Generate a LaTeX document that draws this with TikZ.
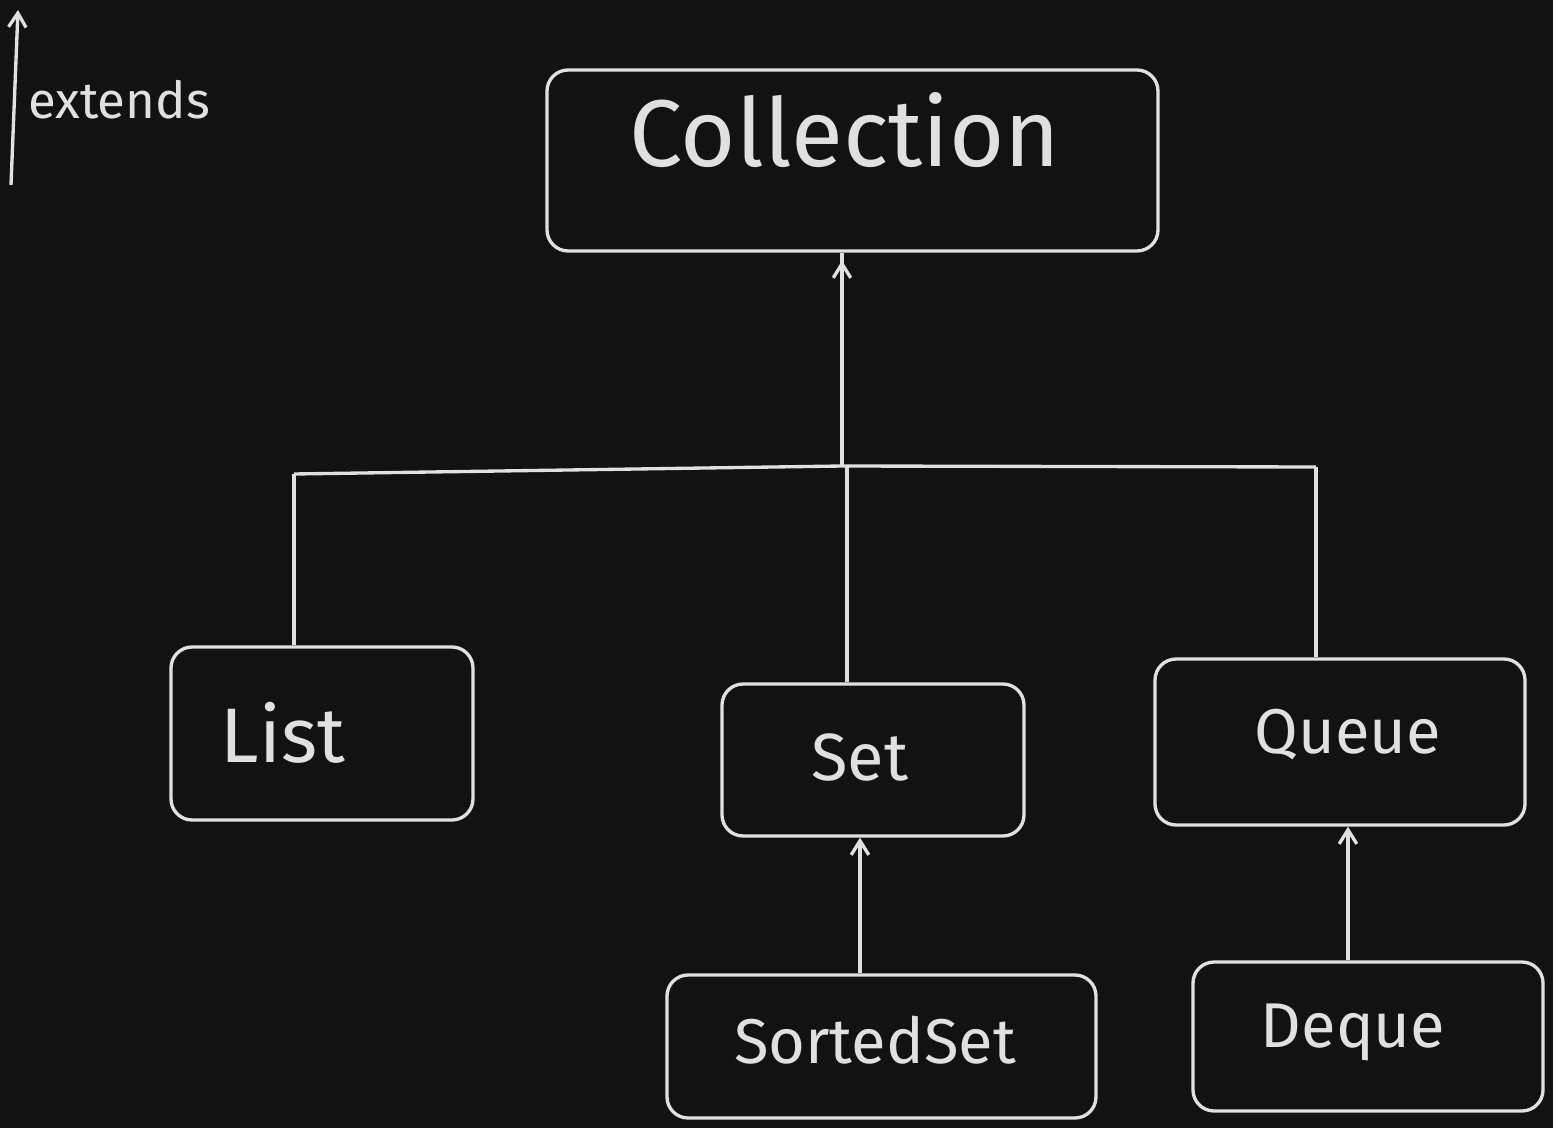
\documentclass[tikz,border=0pt]{standalone}
\usepackage{fontspec}
\setmainfont{Fira Sans}
\usetikzlibrary{arrows.meta}
\definecolor{bg}{HTML}{121212}
\definecolor{ink}{HTML}{E0E0E0}
\tikzset{
  box/.style={draw=ink, line width=1.9pt, rounded corners=12pt, inner sep=0pt},
  txt/.style={text=ink, inner sep=0pt},
  wire/.style={draw=ink, line width=1.9pt},
  ext/.style={wire, -{Straight Barb[length=8pt,width=10pt]}},
}
\newcommand{\fs}[1]{\fontsize{#1}{#1}\selectfont}
\begin{document}
\begin{tikzpicture}[x=0.02cm,y=-0.02cm]
\fill[bg] (0,0) rectangle (1553,1128);
\useasboundingbox (0,0) rectangle (1553,1128);

% boxes
\node[box, minimum width=611*0.02cm, minimum height=181*0.02cm] (coll) at (852.5,160.5) {};
\node[box, minimum width=302*0.02cm, minimum height=173*0.02cm] (list) at (322,733.5) {};
\node[box, minimum width=302*0.02cm, minimum height=152*0.02cm] (set) at (873,760) {};
\node[box, minimum width=370*0.02cm, minimum height=166*0.02cm] (queue) at (1340,742) {};
\node[box, minimum width=429*0.02cm, minimum height=143*0.02cm] (sorted) at (881.5,1046.5) {};
\node[box, minimum width=350*0.02cm, minimum height=149*0.02cm] (deque) at (1368,1036.5) {};

% labels
\node[txt, font=\fs{54}] (tcoll) at (845,130) {Collection};
\node[txt, font=\fs{44}] (tlist) at (283,733) {List};
\node[txt, font=\fs{38}] (tset) at (860,757) {Set};
\node[txt, font=\fs{36}] (tqueue) at (1348,735) {Queue};
\node[txt, font=\fs{36}] (tsorted) at (875,1040) {SortedSet};
\node[txt, font=\fs{36}] (tdeque) at (1353,1032) {Deque};

% legend
\coordinate (lg1) at (11,185);
\coordinate (lg2) at (18,10);
\draw[ext] (lg1) -- (lg2);
\node[txt, font=\fs{29}] (text) at (119,100) {extends};

% tree
\coordinate (jc) at (842,466);
\coordinate (js) at (847,465);
\coordinate (jl) at (294,474);
\coordinate (jr) at (1316,467);
\draw[ext] (jc) -- (coll.south -| jc) ++(0,8);
\draw[wire] (jl) -- (jc) -- (jr);
\draw[wire] (jl) -- (list.north -| jl);
\draw[wire] (js) -- (set.north -| js);
\draw[wire] (jr) -- (queue.north -| jr);
\draw[ext] (sorted.north -| tset) -- (set.south -| tset);
\draw[ext] (deque.north -| tqueue) -- (queue.south -| tqueue);
\end{tikzpicture}
\end{document}
